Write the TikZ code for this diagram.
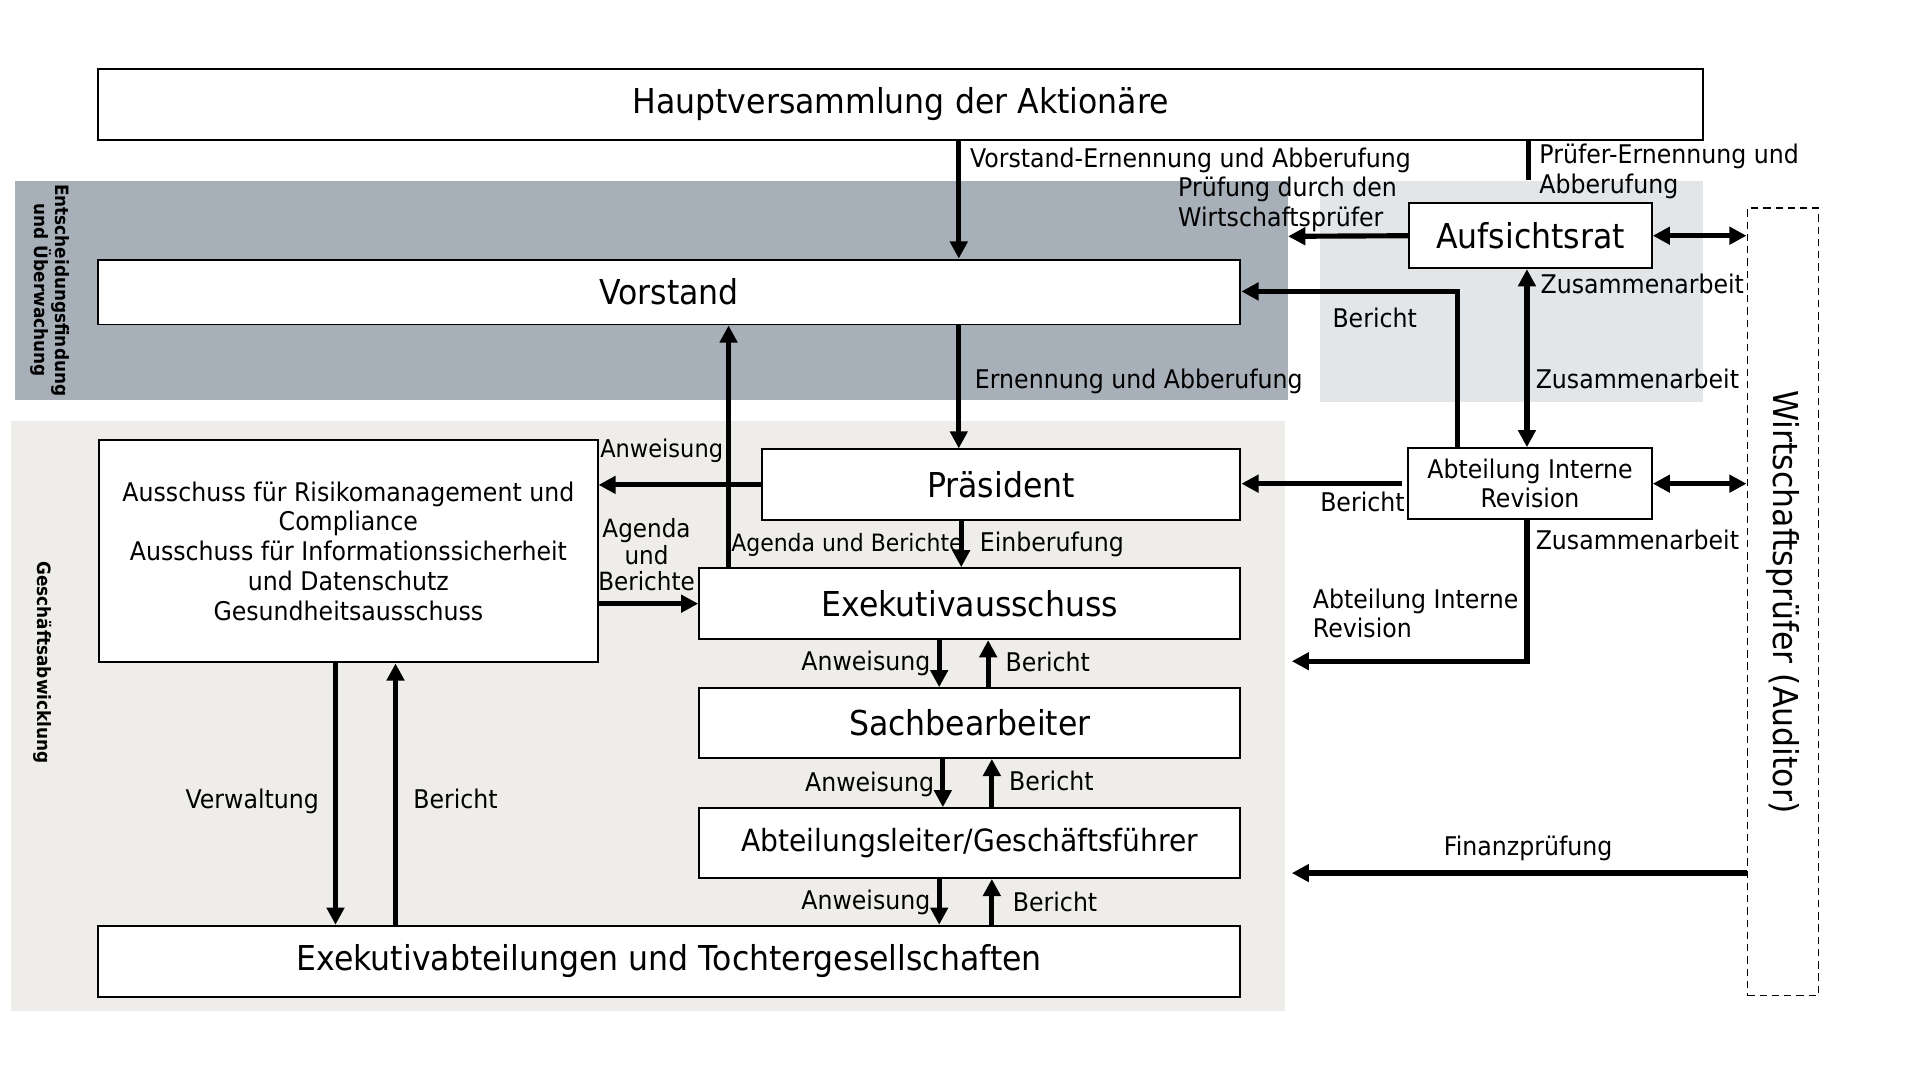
\documentclass[tikz,border=0pt]{standalone}
\usepackage{fontspec}
\setmainfont{DejaVu Sans}[FakeStretch=0.92]
\usetikzlibrary{arrows.meta,calc}
\definecolor{bandA}{RGB}{167,176,184}
\definecolor{bandB}{RGB}{227,230,233}
\definecolor{bandC}{RGB}{238,237,233}
\begin{document}
\begin{tikzpicture}[x=1pt,y=-1pt,
  box/.style={draw, line width=1.6pt, fill=white, inner sep=0pt},
  bigf/.style={font=\fontsize{28}{32}\selectfont},
  midf/.style={font=\fontsize{25}{29}\selectfont},
  lbl/.style={font=\fontsize{21}{24.3}\selectfont, inner sep=0pt, text height=18pt, text depth=3pt},
  lblm/.style={font=\fontsize{21}{24}\selectfont, inner sep=0pt},
  side/.style={font=\bfseries\fontsize{15}{17.5}\selectfont, inner sep=0pt, rotate=-90, align=center},
  conn/.style={line width=4.2pt, line join=miter},
  arr/.style={conn, -{Triangle[length=14pt,width=14pt]}},
  darr/.style={conn, {Triangle[length=14pt,width=14pt]}-{Triangle[length=14pt,width=14pt]}}
]
\useasboundingbox (0,0) rectangle (1568,882);
\fill[white] (0,0) rectangle (1568,882);
% bands
\fill[bandA] (12,148) rectangle (1052,327);
\fill[bandB] (1078,148) rectangle (1391,328);
\fill[bandC] (9,344) rectangle (1049,826);
\node[side] (sl1) at (41,237) {Entscheidungsfindung\\und Überwachung};
\node[side] (sl2) at (35,541) {Geschäftsabwicklung};

% boxes
\node[box, minimum width=1311pt, minimum height=58pt, bigf] (hv) at (735.5,85) {Hauptversammlung der Aktionäre};
\node[box, minimum width=933pt, minimum height=53pt, bigf] (vor) at (546.5,238.5) {Vorstand};
\node[box, minimum width=198pt, minimum height=53pt, bigf] (auf) at (1250,192.5) {Aufsichtsrat};
\node[draw, dashed, dash pattern=on 6pt off 4pt, line width=1.4pt, minimum width=58pt, minimum height=643pt, inner sep=0pt] (wp) at (1456,491.5) {};
\node[rotate=-90, bigf, inner sep=0pt] (wpt) at (wp.center) {Wirtschaftsprüfer (Auditor)};
\node[box, minimum width=391pt, minimum height=58pt, bigf] (pra) at (817.5,396) {Präsident};
\node[box, minimum width=407pt, minimum height=182pt, align=center, font=\fontsize{21}{24.3}\selectfont] (aus) at (284.5,450) {Ausschuss für Risikomanagement und\\Compliance\\Ausschuss für Informationssicherheit\\und Datenschutz\\Gesundheitsausschuss};
\node[box, minimum width=442pt, minimum height=58pt, bigf] (exa) at (792,493) {Exekutivausschuss};
\node[box, minimum width=442pt, minimum height=57pt, bigf] (sach) at (792,590.5) {Sachbearbeiter};
\node[box, minimum width=442pt, minimum height=57pt, midf] (abt) at (792,688.5) {Abteilungsleiter/Geschäftsführer};
\node[box, minimum width=933pt, minimum height=58pt, bigf] (exab) at (546.5,785) {Exekutivabteilungen und Tochtergesellschaften};
\node[box, minimum width=199pt, minimum height=58pt, align=center, font=\fontsize{21}{24}\selectfont] (air) at (1249.5,395) {Abteilung Interne\\Revision};

% x positions / free ends
\coordinate (xA) at (783,0);
\coordinate (xB) at (1248,0);
\coordinate (pe) at (1248,147);
\coordinate (pw) at (1052,193);
\coordinate (xE) at (1247,0);
\coordinate (fC) at (1190,238);
\coordinate (iC) at (1247,540);
\coordinate (iE) at (1055,540);
\coordinate (jE) at (1055,713);
\coordinate (xN) at (595,0);
\coordinate (xO) at (785,0);
\coordinate (p1) at (767,0);
\coordinate (p2) at (807,0);
\coordinate (q1) at (770,0);
\coordinate (q2) at (810,0);
\coordinate (r1) at (767,0);
\coordinate (r2) at (810,0);
\coordinate (s1) at (274,0);
\coordinate (s2) at (323,0);

% connectors
\draw[arr] (hv.south -| xA) -- (vor.north -| xA);
\draw[conn] (hv.south -| xB) -- (pe);
\draw[arr] (auf.west) -- (pw);
\draw[darr] (auf.east) -- (wp.west |- auf.east);
\draw[darr] (auf.south -| xE) -- (air.north -| xE);
\draw[arr] (air.north -| fC) |- (vor.east |- fC);
\draw[arr] ([xshift=-4pt]air.west) -- (pra.east |- air.west);
\draw[darr] (air.east) -- (wp.west |- air.east);
\draw[arr] (air.south -| iC) |- (iE);
\draw[arr] (wp.west |- jE) -- (jE);
\draw[arr] (vor.south -| xA) -- (pra.north -| xA);
\draw[arr] (pra.west) -- (aus.east |- pra.west);
\draw[arr] (aus.east |- exa.west) -- (exa.west);
\draw[arr] (exa.north -| xN) -- (vor.south -| xN);
\draw[arr] (pra.south -| xO) -- (exa.north -| xO);
\draw[arr] (exa.south -| p1) -- (sach.north -| p1);
\draw[arr] (sach.north -| p2) -- (exa.south -| p2);
\draw[arr] (sach.south -| q1) -- (abt.north -| q1);
\draw[arr] (abt.north -| q2) -- (sach.south -| q2);
\draw[arr] (abt.south -| r1) -- (exab.north -| r1);
\draw[arr] (exab.north -| r2) -- (abt.south -| r2);
\draw[arr] (aus.south -| s1) -- (exab.north -| s1);
\draw[arr] (exab.north -| s2) -- (aus.south -| s2);

% labels
\node[lbl, anchor=west] (la) at (792,129) {Vorstand-Ernennung und Abberufung};
\node[lblm, anchor=west, align=left] (lb) at (1257,140) {Prüfer-Ernennung und\\Abberufung};
\node[lblm, anchor=west, align=left] (lc) at (962,167) {Prüfung durch den\\Wirtschaftsprüfer};
\node[lbl, anchor=west] (le1) at (1258,232) {Zusammenarbeit};
\node[lbl, anchor=west] (le2) at (1254,310) {Zusammenarbeit};
\node[lbl, anchor=west] (lf) at (1088,260) {Bericht};
\node[lbl, anchor=west] (lg) at (1078,410) {Bericht};
\node[lbl, anchor=west] (li1) at (1254,441) {Zusammenarbeit};
\node[lblm, anchor=west, align=left] (li2) at (1072,501) {Abteilung Interne\\Revision};
\node[lbl] (lj) at (1248,691) {Finanzprüfung};
\node[lbl, anchor=west] (lk) at (796,310) {Ernennung und Abberufung};
\node[lbl, anchor=west, font=\fontsize{20}{24}\selectfont] (ll) at (490,366) {Anweisung};
\node[lblm, align=center, font=\fontsize{20.5}{22}\selectfont] (lm) at (528,453) {Agenda\\und\\Berichte};
\node[lbl, anchor=west, font=\fontsize{19.5}{24}\selectfont] (ln) at (597,443) {Agenda und Berichte};
\node[lbl, anchor=west] (lo) at (800,443) {Einberufung};
\node[lbl, anchor=east] (lp1) at (760,540) {Anweisung};
\node[lbl, anchor=west] (lp2) at (821,541) {Bericht};
\node[lbl, anchor=east] (lq1) at (763,639) {Anweisung};
\node[lbl, anchor=west] (lq2) at (824,638) {Bericht};
\node[lbl, anchor=east] (lr1) at (760,735) {Anweisung};
\node[lbl, anchor=west] (lr2) at (827,737) {Bericht};
\node[lbl] (ls1) at (206,653) {Verwaltung};
\node[lbl] (ls2) at (372,653) {Bericht};
\end{tikzpicture}
\end{document}
